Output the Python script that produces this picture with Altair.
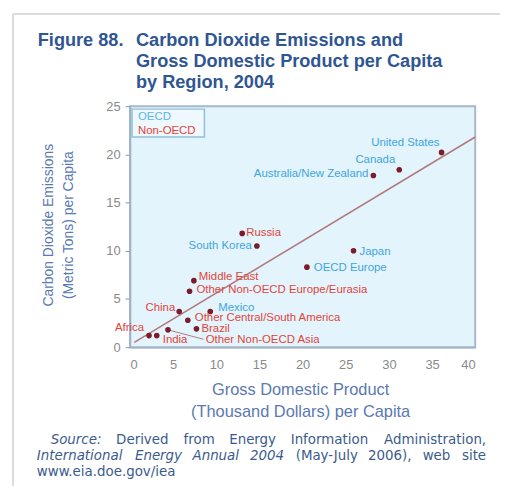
import altair as alt
import pandas as pd

# ---- data ----
regions = ["United States", "Canada", "Australia/New Zealand", "Russia", "South Korea",
           "Japan", "OECD Europe", "Middle East", "Other Non-OECD Europe/Eurasia", "Mexico",
           "China", "Other Central/South America", "Brazil", "Other Non-OECD Asia",
           "Africa", "India"]
gdp = [36.1, 31.2, 28.2, 13.0, 14.7, 25.9, 20.5, 7.4, 6.9, 9.3, 5.7, 6.7, 7.7, 4.4, 2.2, 3.1]
co2 = [20.2, 18.4, 17.8, 11.8, 10.5, 10.0, 8.3, 6.9, 5.8, 3.7, 3.7, 2.8, 1.9, 1.8, 1.2, 1.2]
group = ["OECD", "OECD", "OECD", "Non-OECD", "OECD", "OECD", "OECD", "Non-OECD", "Non-OECD",
         "OECD", "Non-OECD", "Non-OECD", "Non-OECD", "Non-OECD", "Non-OECD", "Non-OECD"]
trend_x = [0.5, 40]
trend_y = [0.5, 21.8]
x_ticks = [0, 5, 10, 15, 20, 25, 30, 35, 40]
y_ticks = [0, 5, 10, 15, 20, 25]

# label placement (align, dx, dy) -- layout only
label_pos = {
    "United States": ("right", -2, -9),
    "Canada": ("right", -4, -10),
    "Australia/New Zealand": ("right", -5, -2),
    "Russia": ("left", 4, 0),
    "South Korea": ("right", -5, 0),
    "Japan": ("left", 6, 1),
    "OECD Europe": ("left", 7, 1),
    "Middle East": ("left", 5, -4),
    "Other Non-OECD Europe/Eurasia": ("left", 7, -1),
    "Mexico": ("left", 8, -4),
    "China": ("right", -4, -4),
    "Other Central/South America": ("left", 7, -2),
    "Brazil": ("left", 5, 0),
    "Other Non-OECD Asia": ("left", 38, 10),
    "Africa": ("right", -5, -8),
    "India": ("left", 6, 4),
}

df = pd.DataFrame({"region": regions, "gdp": gdp, "co2": co2, "group": group})
trend = pd.DataFrame({"gdp": trend_x, "co2": trend_y})
one = pd.DataFrame({"a": [0]})

W, H = 348, 243
BLUE = "#3da5e0"
RED = "#e0443a"
FONT = "Liberation Sans"
LBL = 11.5

xs = alt.X("gdp:Q", scale=alt.Scale(domain=[0, 40], nice=False),
           axis=alt.Axis(values=x_ticks, ticks=False, labelPadding=11, labelFontSize=13,
                         labelColor="#8a8a8a", domainColor="#9fb2c4", domainWidth=1.5,
                         grid=False, title=None, labelFont=FONT))
ys = alt.Y("co2:Q", scale=alt.Scale(domain=[0, 25], nice=False),
           axis=alt.Axis(values=y_ticks, tickSize=5, tickColor="#8a9aaa", labelPadding=5,
                         labelFontSize=13, labelColor="#8a8a8a", domainColor="#9fb2c4",
                         domainWidth=1.5, grid=False, title=None, labelFont=FONT))

line = alt.Chart(trend).mark_line(color="#b07a7e", strokeWidth=1.5).encode(x=xs, y=ys)

pts = alt.Chart(df).mark_circle(size=32, color="#7a1c2a", opacity=1).encode(
    x="gdp:Q", y="co2:Q")

layers = [line]

# leader line for Other Non-OECD Asia
leader = alt.Chart(df).transform_filter(alt.datum.region == "Other Non-OECD Asia").mark_rule(
    color="#b07a7e", strokeWidth=1).encode(x="gdp:Q", y="co2:Q", x2=alt.value(74), y2=alt.value(235))
layers.append(leader)
layers.append(pts)

for r in regions:
    al, dx, dy = label_pos[r]
    g = group[regions.index(r)]
    layers.append(
        alt.Chart(df).transform_filter(alt.datum.region == r).mark_text(
            align=al, baseline="middle", dx=dx, dy=dy, fontSize=LBL, font=FONT,
            color=BLUE if g == "OECD" else RED
        ).encode(x="gdp:Q", y="co2:Q", text="region:N")
    )

# legend box
layers.append(alt.Chart(one).mark_rect(fill="#eef8fd", stroke="#8fbfdc", strokeWidth=1.5).encode(
    x=alt.value(2), x2=alt.value(75), y=alt.value(3), y2=alt.value(31)))
layers.append(alt.Chart(one).mark_text(text="OECD", align="left", baseline="middle", fontSize=LBL,
                                       font=FONT, color="#58b6ea").encode(x=alt.value(8), y=alt.value(11)))
layers.append(alt.Chart(one).mark_text(text="Non-OECD", align="left", baseline="middle", fontSize=LBL,
                                       font=FONT, color=RED).encode(x=alt.value(8), y=alt.value(25)))

# page -> view offsets
OX, OY = 131, 105
def vx(p): return p - OX
def vy(p): return p - OY

TITLE_C = "#2f5692"
def txt(t, px, py, size, color, align="left", weight="normal", style="normal", angle=0, font=FONT):
    kw = dict(text=t, align=align, baseline="middle", fontSize=size, font=font, color=color,
              fontWeight=weight, fontStyle=style)
    if angle:
        kw["angle"] = angle
    return alt.Chart(one).mark_text(**kw).encode(x=alt.value(vx(px)), y=alt.value(vy(py)))

# frame
layers.append(alt.Chart(one).mark_rule(color="#dcdcdc", strokeWidth=2).encode(
    x=alt.value(vx(13)), x2=alt.value(vx(13)), y=alt.value(vy(12)), y2=alt.value(vy(492))))
layers.append(alt.Chart(one).mark_rule(color="#dcdcdc", strokeWidth=2).encode(
    x=alt.value(vx(13)), x2=alt.value(vx(508)), y=alt.value(vy(12)), y2=alt.value(vy(12))))

# title
TS = 18.3
layers.append(txt("Figure 88.", 38, 39, TS, TITLE_C, weight="bold"))
layers.append(txt("Carbon Dioxide Emissions and", 137, 39, TS, TITLE_C, weight="bold"))
layers.append(txt("Gross Domestic Product per Capita", 137, 61, TS, TITLE_C, weight="bold"))
layers.append(txt("by Region, 2004", 137, 82, TS, TITLE_C, weight="bold"))

# axis titles
AX_C = "#5a79b2"
layers.append(txt("Carbon Dioxide Emissions", 49, 225, 14, AX_C, align="center", angle=270))
layers.append(txt("(Metric Tons) per Capita", 70, 225, 14, AX_C, align="center", angle=270))
layers.append(txt("Gross Domestic Product", 303, 391, 16.5, AX_C, align="center"))
layers.append(txt("(Thousand Dollars) per Capita", 303, 413, 16.5, AX_C, align="center"))

# source (justified text emulated by word placement)
SRC_C = "#3b5b8c"
SS = 13.5
SF = "DejaVu Sans"
line1 = [("Source:", 51, "italic"), ("Derived", 117, "normal"), ("from", 185, "normal"),
         ("Energy", 231, "normal"), ("Information", 293, "normal")]
for w, px, st in line1:
    layers.append(txt(w, px, 442, SS, SRC_C, style=st, font=SF))
layers.append(txt("Administration,", 490, 442, SS, SRC_C, align="right", font=SF))
line2 = [("International", 37, "italic"), ("Energy", 136, "italic"), ("Annual", 194, "italic"),
         ("2004", 252, "italic"), ("(May-July", 298, "normal"), ("2006),", 371, "normal"),
         ("web", 426, "normal")]
for w, px, st in line2:
    layers.append(txt(w, px, 458, SS, SRC_C, style=st, font=SF))
layers.append(txt("site", 490, 458, SS, SRC_C, align="right", font=SF))
layers.append(txt("www.eia.doe.gov/iea", 37, 474, SS, SRC_C, font=SF))

chart = alt.layer(*layers).properties(
    width=W, height=H,
    autosize=alt.AutoSizeParams(type="none"),
    padding={"left": OX - 8, "top": OY - 8, "right": 25, "bottom": 138},
    background="white",
).configure_view(fill="#e4f4fc", stroke="#a7b8c8", strokeWidth=2)

chart.save("out.html", embed_options={"renderer": "svg", "actions": False})
